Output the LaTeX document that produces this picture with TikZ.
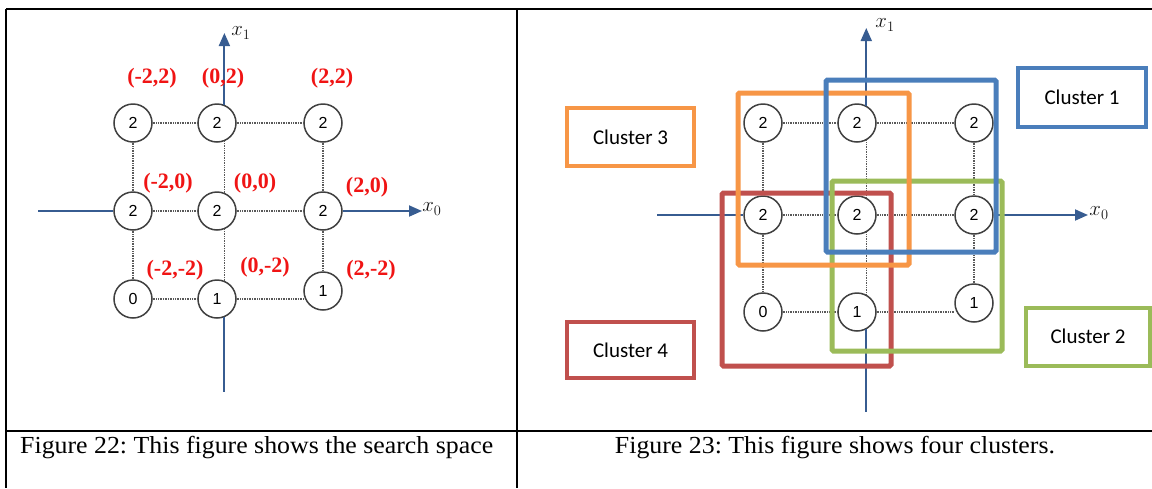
\documentclass[tikz,border=0pt]{standalone}
\usepackage{fontspec}
\setmainfont{Liberation Serif}
\newfontfamily\calib{Carlito}
\newfontfamily\numf{Liberation Sans}
\usetikzlibrary{arrows.meta}
\frenchspacing
\definecolor{axisblue}{RGB}{55,92,145}
\definecolor{cblue}{RGB}{74,126,187}
\definecolor{corange}{RGB}{247,150,70}
\definecolor{cgreen}{RGB}{155,187,89}
\definecolor{cred}{RGB}{192,80,77}
\definecolor{lblred}{RGB}{240,20,20}
\tikzset{
  state/.style={circle, draw=black!75, line width=1.5pt, fill=white, minimum size=38pt, inner sep=0pt, font=\numf\fontsize{16}{16}\selectfont},
  coordlbl/.style={text=lblred, font=\bfseries\fontsize{22}{22}\selectfont, inner sep=0pt},
  dotline/.style={draw=black!65, line width=1.4pt, dash pattern=on 1pt off 0.7pt},
  axisline/.style={draw=axisblue, line width=1.8pt},
  axisarrow/.style={axisline, -{Triangle[length=13pt,width=11pt]}},
  axlabel/.style={font=\fontsize{20}{20}\selectfont, text=black!90, inner sep=0pt},
  clusterrect/.style={line width=5pt, rounded corners=1.5pt},
  clusterlabel/.style={draw, line width=4pt, fill=white, inner sep=0pt, font=\calib\fontsize{21}{21}\selectfont},
  caption/.style={font=\fontsize{24.5}{28}\selectfont, inner sep=0pt},
  tableline/.style={draw=black, line width=2pt},
}
\begin{document}
\begin{tikzpicture}[x=1pt,y=-1pt]
\useasboundingbox (0,0) rectangle (1152,488);
\fill[white] (0,0) rectangle (1152,488);

% table
\draw[tableline] (6,9) -- (1152,9);
\draw[tableline] (6,9) -- (6,488);
\draw[tableline] (6,431) -- (1152,431);
\draw[draw=black, line width=1.3pt] (517,9) -- (517,488);

% ---------------- left figure ----------------
\node[state] (L1) at (133,123) {2};
\node[state] (L2) at (217,123) {2};
\node[state] (L3) at (323,123) {2};
\node[state] (L4) at (133,211) {2};
\node[state] (L5) at (217,211) {2};
\node[state] (L6) at (323,211) {2};
\node[state] (L7) at (133,299) {0};
\node[state] (L8) at (217,299) {1};
\node[state] (L9) at (323,291) {1};

\coordinate (LyB) at (224,392);
\coordinate (LyT) at (224,33);
\coordinate (LxL) at (38,211);
\coordinate (LxR) at (422,211);

\draw[dotline] (L1.east) -- (L2.west);
\draw[dotline] (L2.east) -- (L3.west);
\draw[dotline] (L4.east) -- (L5.west);
\draw[dotline] (L5.east) -- (L6.west);
\draw[dotline] (L7.east) -- (L8.west);
\draw[dotline] (L8.east) -- (L8.east -| L9.west);
\draw[dotline] (L1.south) -- (L4.north);
\draw[dotline] (L4.south) -- (L7.north);
\draw[dotline] (L3.south) -- (L6.north);
\draw[dotline] (L6.south) -- (L9.north);
\draw[dotline] (L2.-68) -- (L5.68);
\draw[dotline] (L5.-68) -- (L8.68);

\draw[axisline] (L8.-68) -- (L8.-68 |- LyB);
\draw[axisarrow] (L2.68) -- (L2.68 |- LyT);
\draw[axisline] (LxL) -- (L4.west);
\draw[axisarrow] (L6.east) -- (LxR);

\node[axlabel] (Lx1) at (241,33) {$x_1$};
\node[axlabel] (Lx0) at (432,209) {$x_0$};

\node[coordlbl] (c1) at (152,78) {(-2,2)};
\node[coordlbl] (c2) at (223,78) {(0,2)};
\node[coordlbl] (c3) at (332,78) {(2,2)};
\node[coordlbl] (c4) at (168,183) {(-2,0)};
\node[coordlbl] (c5) at (255,183) {(0,0)};
\node[coordlbl] (c6) at (367,187) {(2,0)};
\node[coordlbl] (c7) at (175,270) {(-2,-2)};
\node[coordlbl] (c8) at (265,267) {(0,-2)};
\node[coordlbl] (c9) at (371,270) {(2,-2)};

% ---------------- right figure ----------------
\node[state] (R1) at (763,123) {2};
\node[state] (R2) at (857,123) {2};
\node[state] (R3) at (974,123) {2};
\node[state] (R4) at (763,215) {2};
\node[state] (R5) at (857,215) {2};
\node[state] (R6) at (974,215) {2};
\node[state] (R7) at (763,312) {0};
\node[state] (R8) at (857,312) {1};
\node[state] (R9) at (974,303) {1};

\coordinate (RyB) at (866,412);
\coordinate (RyT) at (866,28);
\coordinate (RxL) at (657,215);
\coordinate (RxR) at (1088,215);

\draw[dotline] (R1.east) -- (R2.west);
\draw[dotline] (R2.east) -- (R3.west);
\draw[dotline] (R4.east) -- (R5.west);
\draw[dotline] (R5.east) -- (R6.west);
\draw[dotline] (R7.east) -- (R8.west);
\draw[dotline] (R8.east) -- (R8.east -| R9.west);
\draw[dotline] (R1.south) -- (R4.north);
\draw[dotline] (R4.south) -- (R7.north);
\draw[dotline] (R3.south) -- (R6.north);
\draw[dotline] (R6.south) -- (R9.north);
\draw[dotline] (R2.-62) -- (R5.62);
\draw[dotline] (R5.-62) -- (R8.62);

\draw[axisline] (R8.-62) -- (R8.-62 |- RyB);
\draw[axisarrow] (R2.62) -- (R2.62 |- RyT);
\draw[axisline] (RxL) -- (R4.west);
\draw[axisarrow] (R6.east) -- (RxR);

\node[axlabel] (Rx1) at (885,25) {$x_1$};
\node[axlabel] (Rx0) at (1099,213) {$x_0$};

% cluster rectangles
\draw[clusterrect, cred] (722,193) rectangle (891,366);
\draw[clusterrect, cgreen] (832,181) rectangle (1002,351);
\draw[clusterrect, corange] (738,93) rectangle (909,265);
\draw[clusterrect, cblue] (826,80) rectangle (996,252);

% cluster labels
\node[clusterlabel, draw=cblue, minimum width=128pt, minimum height=59pt] (K1) at (1082,97.5) {Cluster 1};
\node[clusterlabel, draw=cgreen, minimum width=124pt, minimum height=58pt] (K2) at (1088,336.5) {Cluster 2};
\node[clusterlabel, draw=corange, minimum width=127pt, minimum height=58pt] (K3) at (630.5,137) {Cluster 3};
\node[clusterlabel, draw=cred, minimum width=127pt, minimum height=56pt] (K4) at (630.5,350) {Cluster 4};

% captions
\node[caption, anchor=base west] (cap1) at (20,453) {\scalebox{1.055}[1]{Figure 22: This figure shows the search space}};
\node[caption, anchor=base] (cap2) at (835,453) {\scalebox{1.055}[1]{Figure 23: This figure shows four clusters.}};
\end{tikzpicture}
\end{document}
